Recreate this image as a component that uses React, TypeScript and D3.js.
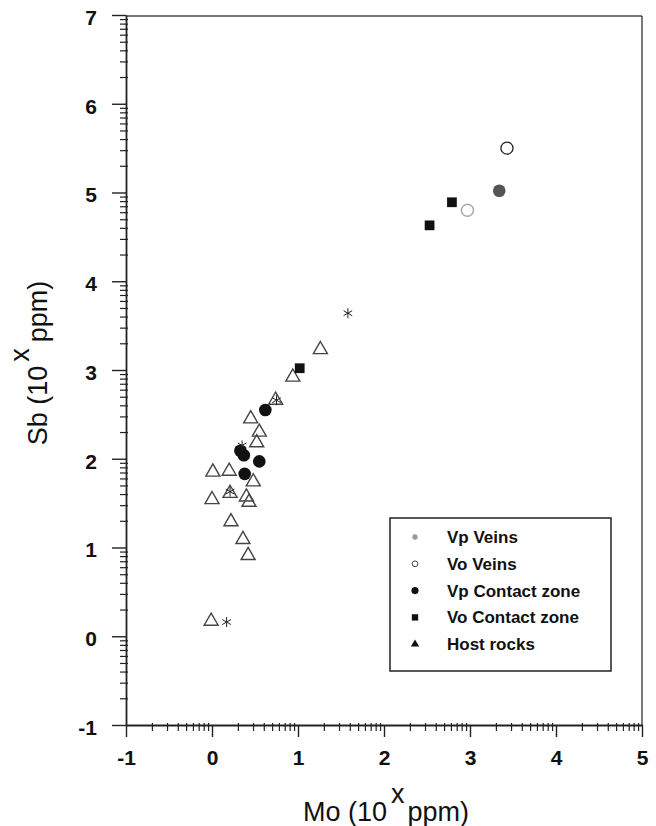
import React, { useRef, useEffect } from 'react';
import * as d3 from 'd3';

// values are log10 of ppm
const vpVeins = [[1.58, 3.64], [0.17, 0.16], [0.75, 2.66], [0.21, 1.63], [0.35, 2.15]];
const voVeins = [[3.43, 5.5]];
const voVeinsFaint = [[2.97, 4.8]];
const vpContact = [[0.62, 2.55], [0.33, 2.09], [0.37, 2.04], [0.55, 1.97], [0.38, 1.83]];
const vpContactGrey = [[3.34, 5.02]];
const voContact = [[2.79, 4.89], [2.53, 4.63], [1.02, 3.02]];
const hostRocks = [
  [1.26, 3.23], [0.94, 2.92], [0.74, 2.66], [0.45, 2.45], [0.55, 2.3], [0.52, 2.18],
  [0.01, 1.85], [0.2, 1.86], [0.48, 1.74], [0.0, 1.54], [0.21, 1.61], [0.4, 1.57],
  [0.43, 1.51], [0.22, 1.29], [0.36, 1.09], [0.42, 0.91], [-0.01, 0.17]
];
const legendLabels = ['Vp Veins', 'Vo Veins', 'Vp Contact zone', 'Vo Contact zone', 'Host rocks'];
const xTicks = [-1, 0, 1, 2, 3, 4, 5];
const yTicks = [-1, 0, 1, 2, 3, 4, 5, 6, 7];

const App = () => {
  const ref = useRef(null);

  useEffect(() => {
    const svg = d3.select(ref.current);
    svg.selectAll('*').remove();

    const left = 126, right = 642, top = 15, bottom = 725;
    const x = d3.scaleLinear().domain([-1, 5]).range([left, right]);
    const y = d3.scaleLinear().domain([-1, 7]).range([bottom, top]);

    // log style minor ticks inside each decade
    const minors = (ticks) => {
      const out = [];
      ticks.slice(0, -1).forEach(t => {
        for (let k = 2; k <= 9; k++) out.push(t + Math.log10(k));
      });
      return out;
    };

    const ink = '#222';
    const font = '"Liberation Sans", Arial, sans-serif';

    // frame
    svg.append('line').attr('x1', left).attr('x2', right).attr('y1', top + 1).attr('y2', top + 1)
      .attr('stroke', '#777').attr('stroke-width', 2);
    svg.append('line').attr('x1', right).attr('x2', right).attr('y1', top + 1).attr('y2', bottom)
      .attr('stroke', ink).attr('stroke-width', 1.2);

    // y axis
    const yMajor = svg.append('g').attr('transform', `translate(${left},0)`)
      .call(d3.axisLeft(y).tickValues(yTicks).tickSize(14).tickSizeOuter(0).tickPadding(15).tickFormat(d => String(d)));
    yMajor.select('.domain').attr('stroke', ink).attr('stroke-width', 1.8);
    yMajor.selectAll('line').attr('stroke', ink).attr('stroke-width', 1.4);
    yMajor.selectAll('text').attr('dy', '0.45em')
      .style('font-family', font).style('font-size', '21px')
      .style('font-weight', 'bold').attr('fill', '#111');
    const yMinor = svg.append('g').attr('transform', `translate(${left + 2},0)`)
      .call(d3.axisLeft(y).tickValues(minors(yTicks)).tickSize(8).tickSizeOuter(0).tickFormat(() => ''));
    yMinor.select('.domain').remove();
    yMinor.selectAll('line').attr('stroke', ink).attr('stroke-width', 1.2);

    // x axis
    const xMajor = svg.append('g').attr('transform', `translate(0,${bottom})`)
      .call(d3.axisBottom(x).tickValues(xTicks).tickSize(12).tickSizeOuter(0).tickFormat(d => String(d)));
    xMajor.select('.domain').attr('stroke', ink).attr('stroke-width', 1.8);
    xMajor.selectAll('line').attr('stroke', ink).attr('stroke-width', 1.4);
    xMajor.selectAll('text').attr('y', 40).attr('dy', 0)
      .style('font-family', font).style('font-size', '21px')
      .style('font-weight', 'bold').attr('fill', '#111');
    const xMinor = svg.append('g').attr('transform', `translate(0,${bottom - 2})`)
      .call(d3.axisBottom(x).tickValues(minors(xTicks)).tickSize(8).tickSizeOuter(0).tickFormat(() => ''));
    xMinor.select('.domain').remove();
    xMinor.selectAll('line').attr('stroke', ink).attr('stroke-width', 1.2);

    // axis titles
    const xt = svg.append('text').attr('x', 386).attr('y', 821).attr('text-anchor', 'middle')
      .style('font-family', font).style('font-size', '27px').attr('fill', '#111');
    xt.append('tspan').text('Mo (10');
    xt.append('tspan').attr('dx', 4).attr('dy', -18).text('x');
    xt.append('tspan').attr('dx', 3).attr('dy', 18).text('ppm)');

    const yt = svg.append('text').attr('transform', 'translate(47,363) rotate(-90)').attr('text-anchor', 'middle')
      .style('font-family', font).style('font-size', '27px').attr('fill', '#111');
    yt.append('tspan').text('Sb (10');
    yt.append('tspan').attr('dx', 4).attr('dy', -18).text('x');
    yt.append('tspan').attr('dx', 6).attr('dy', 18).text('ppm)');

    // points
    const sym = (type, size) => d3.symbol().type(type).size(size)();
    const asterisk = d3.symbolAsterisk || d3.symbolCross;
    const plot = (data, path, attrs) => {
      const sel = svg.append('g').selectAll('path').data(data).join('path')
        .attr('transform', d => `translate(${x(d[0])},${y(d[1])})`)
        .attr('d', path);
      Object.entries(attrs).forEach(([k, v]) => sel.attr(k, v));
    };

    plot(hostRocks, sym(d3.symbolTriangle, 85), { fill: 'none', stroke: '#444', 'stroke-width': 1.4 });
    plot(vpContact, sym(d3.symbolCircle, 125), { fill: '#111' });
    plot(vpContactGrey, sym(d3.symbolCircle, 125), { fill: '#555' });
    plot(voContact, sym(d3.symbolSquare, 95), { fill: '#111' });
    plot(voVeins, sym(d3.symbolCircle, 115), { fill: 'none', stroke: '#222', 'stroke-width': 1.3 });
    plot(voVeinsFaint, sym(d3.symbolCircle, 115), { fill: 'none', stroke: '#aaa', 'stroke-width': 1.5 });
    plot(vpVeins, sym(asterisk, 70), { fill: 'none', stroke: '#222', 'stroke-width': 1 });

    // legend
    const lg = svg.append('g');
    lg.append('rect').attr('x', 390).attr('y', 518).attr('width', 221).attr('height', 153)
      .attr('fill', 'white').attr('stroke', ink).attr('stroke-width', 1.5);
    const legendSyms = [
      { d: sym(d3.symbolCircle, 22), fill: '#999', stroke: 'none' },
      { d: sym(d3.symbolCircle, 26), fill: 'white', stroke: '#444' },
      { d: sym(d3.symbolCircle, 40), fill: '#111', stroke: 'none' },
      { d: sym(d3.symbolSquare, 40), fill: '#111', stroke: 'none' },
      { d: sym(d3.symbolTriangle, 30), fill: '#111', stroke: 'none' }
    ];
    legendLabels.forEach((label, i) => {
      const cy = 537 + i * 26.8;
      lg.append('path').attr('transform', `translate(415,${cy})`).attr('d', legendSyms[i].d)
        .attr('fill', legendSyms[i].fill).attr('stroke', legendSyms[i].stroke);
      lg.append('text').attr('x', 447).attr('y', cy + 6).text(label)
        .style('font-family', font).style('font-size', '17px').style('font-weight', 'bold').attr('fill', '#111');
    });
  }, []);

  return (
    <>
      <style>{'body{margin:0;background:#fff}'}</style>
      <svg ref={ref} width={656} height={826} style={{ display: 'block', background: '#fff' }}></svg>
    </>
  );
};

export default App;
